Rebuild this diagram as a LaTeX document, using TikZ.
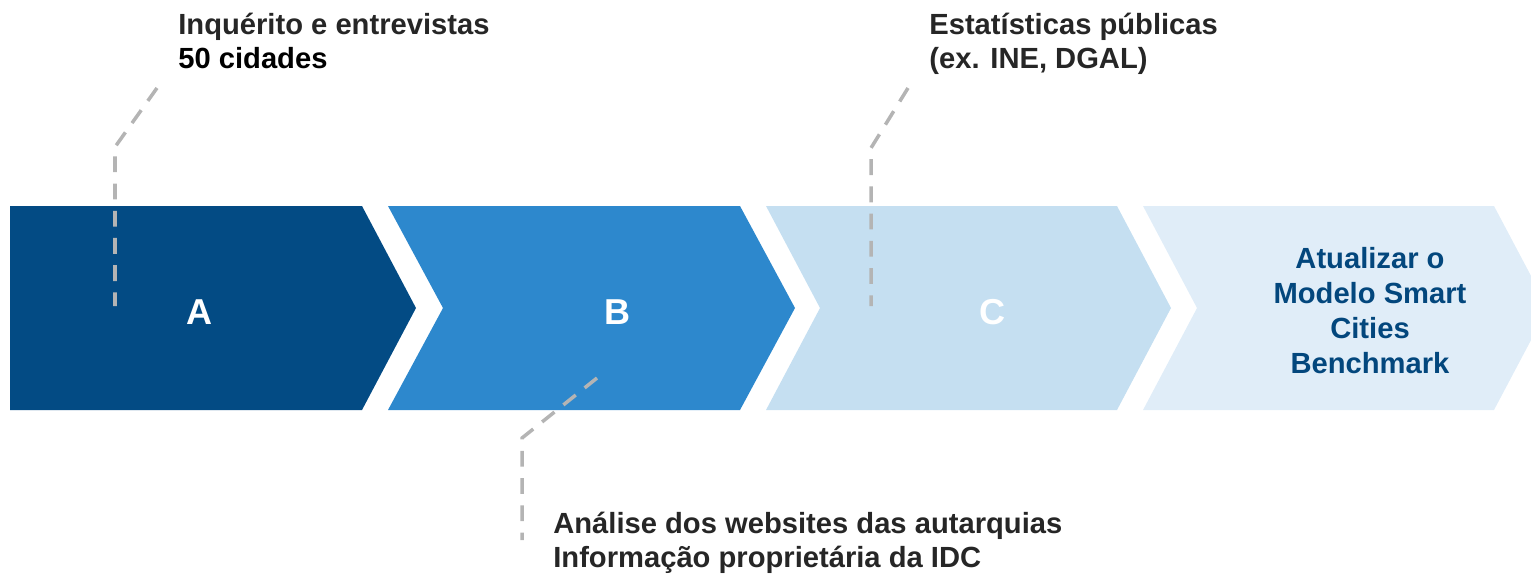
\documentclass[tikz,border=0pt]{standalone}
\usepackage{fontspec}
\setmainfont{Liberation Sans}
\definecolor{stepA}{HTML}{034B84}
\definecolor{stepB}{HTML}{2D88CD}
\definecolor{stepC}{HTML}{C5DFF1}
\definecolor{stepD}{HTML}{E0EDF8}
\definecolor{leadgray}{HTML}{B4B4B4}
\definecolor{srctext}{HTML}{262626}
\begin{document}
\begin{tikzpicture}[x=0.02cm,y=-0.02cm,
    letter/.style={text=white,font=\fontsize{20.5}{24}\selectfont\bfseries,inner sep=0},
    source/.style={text=srctext,font=\fontsize{16.6}{18.8}\selectfont\bfseries,align=left,inner sep=0,anchor=base west},
    leader/.style={draw=leadgray,line width=2pt,dash pattern=on 9pt off 6.5pt}]
    \useasboundingbox (0,0) rectangle (1531,576);

    % chevrons
    \fill[stepA] (10,206) -- (362,206) -- (416,308) -- (362,410) -- (10,410) -- cycle;
    \fill[stepB] (388,206) -- (740,206) -- (795,308) -- (740,410) -- (388,410) -- (443,308) -- cycle;
    \fill[stepC] (766,206) -- (1117,206) -- (1171,308) -- (1117,410) -- (766,410) -- (820,308) -- cycle;
    \fill[stepD] (1143,206) -- (1494,206) -- (1548,308) -- (1494,410) -- (1143,410) -- (1197,308) -- cycle;

    \node[letter] (la) at (200,312) {A};
    \node[letter] (lb) at (617,312) {B};
    \node[letter] (lc) at (992,312) {C};
    \node[text=stepA!95!black,font=\fontsize{16.6}{19.9}\selectfont\bfseries,align=center,inner sep=0] (ld) at (1370,311)
        {Atualizar o\\Modelo Smart\\Cities\\Benchmark};

    % sources (anchored at the baseline of the last line)
    \node[source] (sa) at (178,68) {Inquérito e entrevistas\\\textcolor{black}{50 cidades}};
    \node[source] (sc) at (929,68) {Estatísticas públicas\\(ex. INE, DGAL)};
    \node[source] (sb) at (553,567) {Análise dos websites das autarquias\\Informação proprietária da IDC};

    \coordinate (ta) at (157,88);
    \coordinate (ka) at (115,147);
    \coordinate (ea) at (115,306);
    \coordinate (tc) at (908,88);
    \coordinate (kc) at (871,148);
    \coordinate (ec) at (871,306);
    \coordinate (tb) at (597,378);
    \coordinate (kb) at (522,438);
    \coordinate (eb) at (522,540);
    \draw[leader] (ta) -- (ka) -- (ea);
    \draw[leader] (tc) -- (kc) -- (ec);
    \draw[leader] (tb) -- (kb) -- (eb);

\end{tikzpicture}
\end{document}
